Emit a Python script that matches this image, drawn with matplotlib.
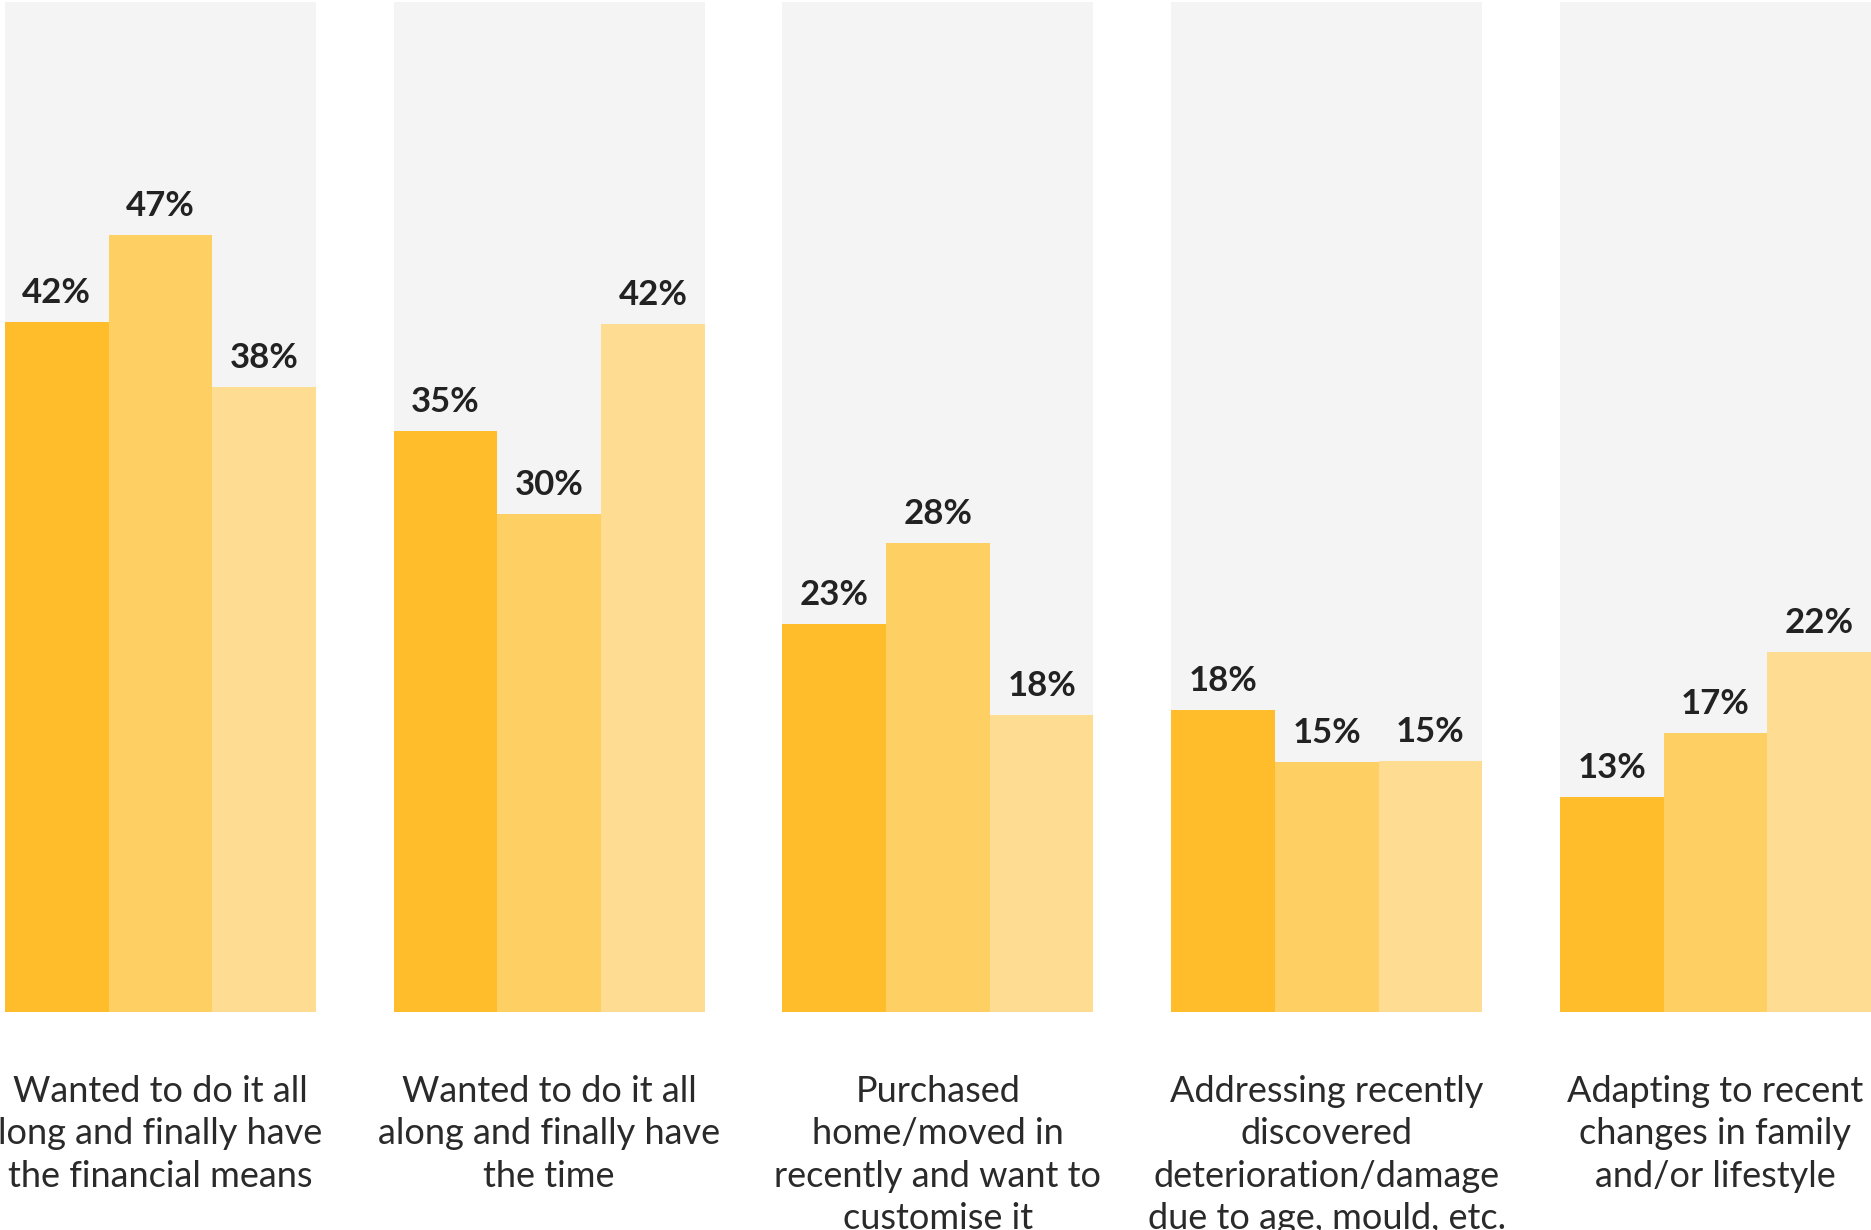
import numpy as np
import matplotlib.pyplot as plt

# reasons for renovating, three series per reason
categories = ['Wanted to do it all\nlong and finally have\nthe financial means',
              'Wanted to do it all\nalong and finally have\nthe time',
              'Purchased\nhome/moved in\nrecently and want to\ncustomise it',
              'Addressing recently\ndiscovered\ndeterioration/damage\ndue to age, mould, etc.',
              'Adapting to recent\nchanges in family\nand/or lifestyle']
# bar heights as drawn (labels are the rounded figures)
series_a = [41.8, 35.2, 23.5, 18.3, 13.05]
series_b = [47.1, 30.2, 28.4, 15.15, 16.9]
series_c = [37.9, 41.7, 18.0, 15.2, 21.8]
labels_a = [42, 35, 23, 18, 13]
labels_b = [47, 30, 28, 15, 17]
labels_c = [38, 42, 18, 15, 22]

colors = ['#FFBD2C', '#FECF63', '#FEDC92']
panel_color = '#F4F4F4'
panel_lo, panel_hi = 7.5, 61.2

fig = plt.figure(figsize=(18.71, 12.30), dpi=100)
ax = fig.add_axes([0, 0, 1, 1])

group_gap = 3.75
centers = np.arange(len(categories)) * group_gap

for c in centers:
    ax.bar(c, panel_hi - panel_lo, width=3.0, bottom=panel_lo,
           color=panel_color, zorder=0)

for k, (vals, labs) in enumerate([(series_a, labels_a), (series_b, labels_b),
                                  (series_c, labels_c)]):
    xs = centers + (k - 1)
    ax.bar(xs, vals, width=1.0, color=colors[k], linewidth=0, zorder=2)
    for x, v, l in zip(xs, vals, labs):
        ax.text(x, v + 1.15, f'{l}%', ha='center', va='baseline',
                fontsize=25, fontweight='bold', color='#222222',
                family='Lato', zorder=3)

for c, lab in zip(centers, categories):
    ax.text(c, -3.8, lab, ha='center', va='top', fontsize=26,
            color='#2a2a2a', family='Lato', linespacing=1.35)

ax.set_xlim(-1.548, 16.5)
ax.set_ylim(-13.2, 61.33)
ax.axis('off')

fig.savefig('out.png', dpi=100, facecolor='white')
